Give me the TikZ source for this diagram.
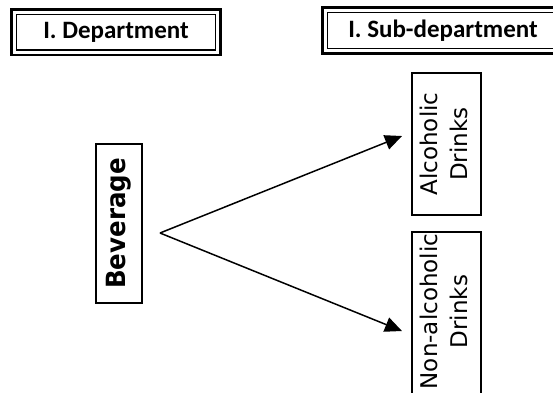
\documentclass[tikz,border=0pt]{standalone}
\usepackage{fontspec}
\setmainfont{DejaVu Sans}
\newfontfamily\headfont{Carlito}
\usetikzlibrary{arrows.meta}
\begin{document}
\begin{tikzpicture}[x=1pt,y=-1pt,
  headbox/.style={draw,line width=1.2pt,inner sep=0pt,
    font=\headfont\bfseries\fontsize{25}{30}\selectfont},
  headframe/.style={draw,line width=2.4pt},
  levelbox/.style={draw,line width=1.5pt,rotate=90,inner sep=2pt,align=center},
  itembox/.style={levelbox,minimum height=69pt,
    font=\fontsize{23}{30}\selectfont},
  link/.style={line width=1.5pt,-{Triangle[length=17pt,width=15pt]}}
]
\clip (0,0) rectangle (553,392);

% column headers with double frames
\node[headbox,minimum width=199pt,minimum height=35.5pt] (dept) at (116,32.25) {I. Department};
\draw[headframe] ([shift={(-4.5pt,-4.5pt)}]dept.south west) rectangle ([shift={(4.5pt,4.5pt)}]dept.north east);

\node[headbox,minimum width=231pt,minimum height=36pt] (sub) at (443,30.5) {I. Sub-department};
\draw[headframe] ([shift={(-4.5pt,-4.5pt)}]sub.south west) rectangle ([shift={(4.5pt,4.5pt)}]sub.north east);

% department
\node[levelbox,minimum width=159pt,minimum height=46pt,
  font=\bfseries\fontsize{24.5}{28}\selectfont] (bev) at (119,223.5) {\scalebox{1}[1.08]{Beverage}};

% sub-departments
\node[itembox,minimum width=142pt] (alc) at (446.5,144) {\begin{tabular}{@{}c@{}}Alcoholic\\Drinks\end{tabular}};
\node[itembox,minimum width=176pt] (non) at (446.5,320) {\hspace{17pt}\begin{tabular}{@{}c@{}}Non-alcoholic\\Drinks\end{tabular}};

% branching arrows
\coordinate (fork) at (160,233);
\coordinate (alctip) at (402,136);
\coordinate (nontip) at (402,331);
\draw[link] (fork) -- (alctip);
\draw[link] (fork) -- (nontip);
\end{tikzpicture}
\end{document}
